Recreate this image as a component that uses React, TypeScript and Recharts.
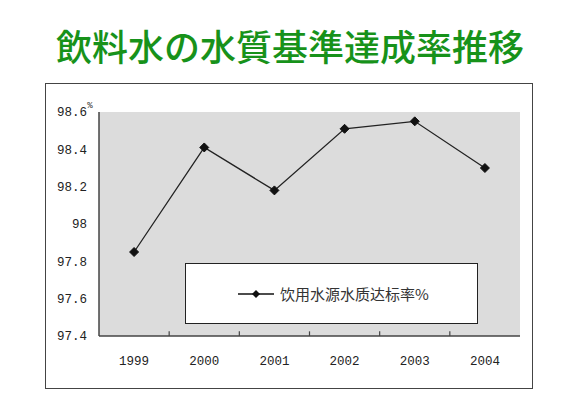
import React from "react";
import {
  LineChart,
  Line,
  XAxis,
  YAxis,
  CartesianGrid,
  ReferenceLine,
} from "recharts";

const YEARS = [1999, 2000, 2001, 2002, 2003, 2004];
const RATES = [97.85, 98.41, 98.18, 98.51, 98.55, 98.3];
const Y_TICKS = [97.4, 97.6, 97.8, 98, 98.2, 98.4, 98.6];
const SERIES_NAME = "饮用水源水质达标率%";
const TITLE = "飲料水の水質基準達成率推移";

const data = YEARS.map((y, i) => ({ year: y, rate: RATES[i] }));
const BOUNDS = YEARS.slice(0, -1).map((y) => y + 0.5);

const TICK_FONT = "'Liberation Mono', 'DejaVu Sans Mono', monospace";

const Diamond = (props: any) => {
  const { cx, cy } = props;
  if (cx == null || cy == null) return null;
  const r = 4.5;
  return (
    <polygon
      points={`${cx},${cy - r} ${cx + r},${cy} ${cx},${cy + r} ${cx - r},${cy}`}
      fill="#111"
      stroke="#111"
    />
  );
};

// legend drawn as a plain box so recharts doesn't reserve space for it
const LegendBox = () => (
  <div
    style={{
      position: "absolute",
      left: 185,
      top: 263,
      width: 291,
      height: 59,
      border: "1.5px solid #222",
      background: "#fff",
      display: "flex",
      alignItems: "center",
      fontFamily: "'Noto Sans CJK SC', sans-serif",
      fontSize: 15,
      color: "#333",
    }}
  >
    <svg width={40} height={12} style={{ marginLeft: 50 }}>
      <line x1={2} y1={6} x2={38} y2={6} stroke="#111" strokeWidth={1.3} />
      <polygon points="20,2 24,6 20,10 16,6" fill="#111" />
    </svg>
    <span style={{ marginLeft: 4 }}>{SERIES_NAME}</span>
  </div>
);

export default function App() {
  return (
    <div
      style={{
        position: "relative",
        width: 580,
        height: 410,
        margin: -8,
        background: "#fff",
        overflow: "hidden",
      }}
    >
      <div
        style={{
          position: "absolute",
          top: 20,
          left: 0,
          width: 580,
          textAlign: "center",
          fontFamily: "'Noto Sans CJK JP', sans-serif",
          fontSize: 36,
          fontWeight: 500,
          color: "#17921a",
          lineHeight: "50px",
        }}
      >
        {TITLE}
      </div>
      <div
        style={{
          position: "absolute",
          left: 45,
          top: 83,
          width: 486,
          height: 304,
          border: "1.5px solid #444",
        }}
      />
      <div style={{ position: "absolute", left: 0, top: 0 }}>
        <LineChart
          width={580}
          height={410}
          data={data}
          margin={{ top: 112, right: 60, bottom: 44, left: 49 }}
        >
          <CartesianGrid
            horizontal={false}
            vertical={false}
            fill="#dcdcdc"
          />
          <XAxis
            dataKey="year"
            type="number"
            domain={[1998.5, 2004.5]}
            ticks={YEARS}
            tickLine={false}
            tickSize={6}
            tickMargin={14}
            height={30}
            axisLine={{ stroke: "#444", strokeWidth: 1.5 }}
            tick={{ fontFamily: TICK_FONT, fontSize: 12.5, fill: "#222" }}
          />
          <XAxis
            xAxisId="top"
            orientation="top"
            dataKey="year"
            type="number"
            domain={[1998.5, 2004.5]}
            tick={false}
            tickLine={false}
            height={0}
            axisLine={{ stroke: "#555", strokeWidth: 1.2 }}
          />
          <YAxis
            domain={[97.4, 98.6]}
            ticks={Y_TICKS}
            width={50}
            tickLine={false}
            tickMargin={6}
            axisLine={{ stroke: "#444", strokeWidth: 1.5 }}
            tick={{ fontFamily: TICK_FONT, fontSize: 12.5, fill: "#222" }}
            tickFormatter={(v: number) => String(Math.round(v * 10) / 10)}
            label={{
              value: "%",
              position: "top",
              offset: 4,
              dx: 16,
              style: { fontSize: 9, fill: "#333", fontFamily: TICK_FONT },
            }}
          />
          <YAxis
            yAxisId="right"
            orientation="right"
            domain={[97.4, 98.6]}
            tick={false}
            tickLine={false}
            width={0}
            axisLine={{ stroke: "#555", strokeWidth: 1.2 }}
          />
          {/* small inward tick marks between the year categories */}
          {BOUNDS.map((b) => (
            <ReferenceLine
              key={b}
              segment={[
                { x: b, y: 97.4 },
                { x: b, y: 97.425 },
              ]}
              stroke="#444"
              strokeWidth={1.2}
            />
          ))}
          <Line
            type="linear"
            dataKey="rate"
            name={SERIES_NAME}
            stroke="#222"
            strokeWidth={1.3}
            dot={<Diamond />}
            activeDot={false}
            isAnimationActive={false}
          />
        </LineChart>
      </div>
      <LegendBox />
    </div>
  );
}
